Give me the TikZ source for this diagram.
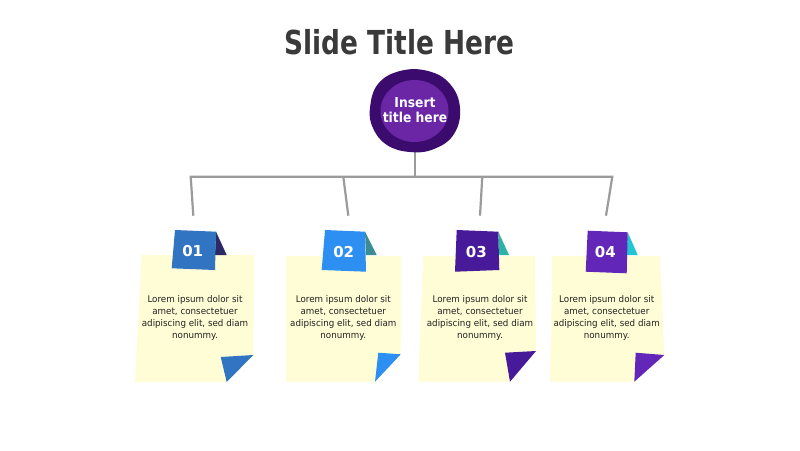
\documentclass[tikz,border=0pt]{standalone}
\usepackage{fontspec}
\setmainfont{DejaVu Sans}
\newfontfamily\titlefont[FakeStretch=0.8]{DejaVu Sans}
\newfontfamily\hubfont[FakeStretch=0.9]{DejaVu Sans}
\newfontfamily\bodyfont[FakeStretch=0.95]{DejaVu Sans}
\definecolor{titlegray}{HTML}{3A3A3A}
\definecolor{hubouter}{HTML}{3C0B6E}
\definecolor{hubinner}{HTML}{6B26A6}
\definecolor{linegray}{HTML}{9B9B9B}
\definecolor{noteyellow}{HTML}{FFFDD5}
\definecolor{textdark}{HTML}{222222}
\definecolor{tabA}{HTML}{3174C2}
\definecolor{triA}{HTML}{2B2966}
\definecolor{tabB}{HTML}{2E8FF2}
\definecolor{triB}{HTML}{3B8C94}
\definecolor{tabC}{HTML}{461A99}
\definecolor{triC}{HTML}{2BB3A6}
\definecolor{tabD}{HTML}{6226B8}
\definecolor{triD}{HTML}{21C5D6}
\begin{document}
\begin{tikzpicture}[x=1pt,y=-1pt,
  connector/.style={draw=linegray,line width=2.2pt},
  notepaper/.style={fill=noteyellow},
  numlabel/.style={text=white,font=\bfseries\fontsize{15}{16}\selectfont,inner sep=0pt,anchor=base},
  bodytext/.style={text=textdark,align=center,font=\bodyfont\fontsize{9.2}{12}\selectfont,inner sep=0pt}]
\useasboundingbox (0,0) rectangle (800,450);
\fill[white] (0,0) rectangle (800,450);

% title
\node[anchor=base,text=titlegray,inner sep=0pt,font=\titlefont\bfseries\fontsize{33}{36}\selectfont] (title) at (399.5,54.3) {Slide Title Here};

% connectors
\coordinate (hubbot) at (415,150);
\coordinate (jc) at (415,176.7);
\coordinate (j1) at (190.7,176.7);
\coordinate (j2) at (343.3,176.7);
\coordinate (j3) at (482.3,176.7);
\coordinate (j4) at (612.3,176.7);
\coordinate (d1) at (193.3,215.7);
\coordinate (d2) at (348.3,215.7);
\coordinate (d3) at (480,215.7);
\coordinate (d4) at (606,215.7);
\draw[connector] (hubbot) -- (jc);
\draw[connector] (d1) -- (j1) -- (j4) -- (d4);
\draw[connector] (j2) -- (d2);
\draw[connector] (j3) -- (d3);

% hub
\fill[hubouter] plot[smooth cycle,tension=0.7] coordinates {(370,108) (378,84) (400,71) (428,71) (450,84) (460,108) (454,134) (434,149) (410,152) (387,145) (373,128)};
\fill[hubinner] (414.5,111) ellipse [x radius=34,y radius=31];
\node[text=white,align=center,inner sep=0pt,font=\hubfont\bfseries\fontsize{13.7}{15}\selectfont] (hub) at (415,110) {Insert\\title here};

% note 1
\fill[notepaper] (141.7,255) -- (254,255) -- (253.3,355) -- (226.7,382) -- (135,382) -- cycle;
\fill[triA] (216,231.7) -- (226.7,255) -- (215,255) -- cycle;
\fill[tabA] (175,230) -- (216,231.7) -- (215,270) -- (171.7,268.3) -- cycle;
\fill[tabA] (220.7,357) -- (253.3,355) -- (226.7,382) -- cycle;
\node[numlabel] (n1) at (192.7,256.7) {01};
\node[bodytext] (t1) at (195,318) {Lorem ipsum dolor sit\\amet, consectetuer\\adipiscing elit, sed diam\\nonummy.};

% note 2
\fill[notepaper] (286,256) -- (401,256) -- (400.7,354.3) -- (375,381.7) -- (286,381.7) -- cycle;
\fill[triB] (365,231.7) -- (376.7,255) -- (366,255) -- cycle;
\fill[tabB] (325,230) -- (365,231.7) -- (366,271.7) -- (321.7,270) -- cycle;
\fill[tabB] (378.3,352.7) -- (400.7,354.3) -- (375,381.7) -- cycle;
\node[numlabel] (n2) at (343.7,257.3) {02};
\node[bodytext] (t2) at (343.3,318) {Lorem ipsum dolor sit\\amet, consectetuer\\adipiscing elit, sed diam\\nonummy.};

% note 3
\fill[notepaper] (423.3,256) -- (535,256) -- (536,351) -- (510,381.7) -- (418.3,381.7) -- cycle;
\fill[triC] (498.3,231.7) -- (509,255) -- (499.3,255) -- cycle;
\fill[tabC] (456.7,230) -- (498.3,231.7) -- (499.3,270) -- (455,271.7) -- cycle;
\fill[tabC] (505,352.7) -- (536,351) -- (510,381.7) -- cycle;
\node[numlabel] (n3) at (476.3,257.3) {03};
\node[bodytext] (t3) at (480,318) {Lorem ipsum dolor sit\\amet, consectetuer\\adipiscing elit, sed diam\\nonummy.};

% note 4
\fill[notepaper] (552.3,256) -- (660,256) -- (664.3,355) -- (634.3,381.7) -- (550,381.7) -- cycle;
\fill[triD] (627.7,232.3) -- (637.7,255) -- (626.7,255) -- cycle;
\fill[tabD] (587.7,230.7) -- (627.7,232.3) -- (626.7,273.3) -- (585.7,271.7) -- cycle;
\fill[tabD] (635.7,352.7) -- (664.3,355) -- (634.3,381.7) -- cycle;
\node[numlabel] (n4) at (605.3,257.3) {04};
\node[bodytext] (t4) at (606.7,318) {Lorem ipsum dolor sit\\amet, consectetuer\\adipiscing elit, sed diam\\nonummy.};
\end{tikzpicture}
\end{document}
